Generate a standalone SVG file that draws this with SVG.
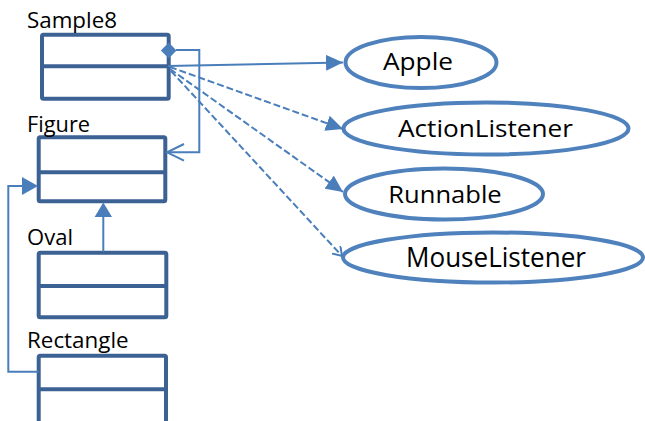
<svg xmlns="http://www.w3.org/2000/svg" width="645" height="421" viewBox="0 0 645 421">
<style>
.box{fill:#fff;stroke:#3C6294;stroke-width:4;stroke-linejoin:round}
.div{stroke:#3C6294;stroke-width:4}
.lbl{font-family:"Open Sans","Liberation Sans",sans-serif;font-size:22px;fill:#000}
.ov{fill:#fff;stroke:#4F81BD;stroke-width:4}
.olbl{font-family:"Open Sans","Liberation Sans",sans-serif;font-size:24px;fill:#000}
.con{fill:none;stroke:#4A7EBB;stroke-width:2}
.dash{stroke-dasharray:7 3}
</style>
<defs>
<marker id="tri" viewBox="0 0 17 16" refX="17" refY="8" markerWidth="17" markerHeight="16" markerUnits="userSpaceOnUse" orient="auto">
<path d="M0,0 L17,8 L0,16 Z" fill="#4A7EBB"/>
</marker>
<marker id="vee" viewBox="0 0 10 12" refX="9" refY="6" markerWidth="10" markerHeight="12" markerUnits="userSpaceOnUse" orient="auto">
<path d="M0,0 L9,6 L0,12" fill="none" stroke="#4A7EBB" stroke-width="2"/>
</marker>
</defs>
<g id="Sample8">
<rect class="box" x="42" y="34.7" width="126.7" height="64" rx="1.5"/>
<line class="div" x1="42" y1="66.3" x2="168.7" y2="66.3"/>
<text class="lbl" x="27" y="28.3" textLength="90" lengthAdjust="spacingAndGlyphs">Sample8</text>
</g>
<g id="Figure">
<rect class="box" x="38.7" y="137.3" width="126.6" height="64" rx="1.5"/>
<line class="div" x1="38.7" y1="172.3" x2="165.3" y2="172.3"/>
<text class="lbl" x="27" y="131.7" textLength="63" lengthAdjust="spacingAndGlyphs">Figure</text>
</g>
<g id="Oval">
<rect class="box" x="38.7" y="252.7" width="127.6" height="64.6" rx="1.5"/>
<line class="div" x1="38.7" y1="286" x2="166.3" y2="286"/>
<text class="lbl" x="27" y="245" textLength="46" lengthAdjust="spacingAndGlyphs">Oval</text>
</g>
<g id="Rectangle">
<rect class="box" x="38.7" y="355.8" width="127.3" height="72" rx="1.5"/>
<line class="div" x1="38.7" y1="389.3" x2="166" y2="389.3"/>
<text class="lbl" x="27" y="348.3" textLength="101.6" lengthAdjust="spacingAndGlyphs">Rectangle</text>
</g>
<g id="Apple">
<ellipse class="ov" cx="421" cy="62.5" rx="75.5" ry="25.5"/>
<text class="olbl" x="383" y="70" textLength="70" lengthAdjust="spacingAndGlyphs">Apple</text>
</g>
<g id="ActionListener">
<ellipse class="ov" cx="486" cy="128.5" rx="142.5" ry="26"/>
<text class="olbl" x="398" y="136.7" textLength="175" lengthAdjust="spacingAndGlyphs">ActionListener</text>
</g>
<g id="Runnable">
<ellipse class="ov" cx="444" cy="194" rx="99" ry="25.5"/>
<text class="olbl" x="388.3" y="202.7" textLength="113.4" lengthAdjust="spacingAndGlyphs">Runnable</text>
</g>
<g id="MouseListener">
<ellipse class="ov" cx="493" cy="257.5" rx="150" ry="25"/>
<text class="olbl" x="406" y="266.7" style="font-size:27px" textLength="180" lengthAdjust="spacingAndGlyphs">MouseListener</text>
</g>
<g id="connectors">
<path class="con" d="M168,66 L343,62.5" marker-end="url(#tri)"/>
<path class="con dash" d="M170,67 L343,129" marker-end="url(#tri)"/>
<path class="con dash" d="M170,69 L343,192" marker-end="url(#tri)"/>
<path class="con dash" d="M171,71 L342,256" marker-end="url(#vee)"/>
<polyline class="con" points="176,50 199.3,50 199.3,152.3 167,152.3"/>
<polyline class="con" points="184,144 167,152.3 184,160.7"/>
<polygon points="168.7,42.5 176.5,50.5 168.7,58.5 160.9,50.5" fill="#4A7EBB"/>
<polyline class="con" points="103.3,252 103.3,216"/>
<polygon points="103.3,202.5 112,217 94.6,217" fill="#4A7EBB"/>
<polyline class="con" points="38.7,371.7 8.3,371.7 8.3,186 23,186"/>
<polygon points="38,186 22,177 22,195" fill="#4A7EBB"/>
</g>
</svg>
